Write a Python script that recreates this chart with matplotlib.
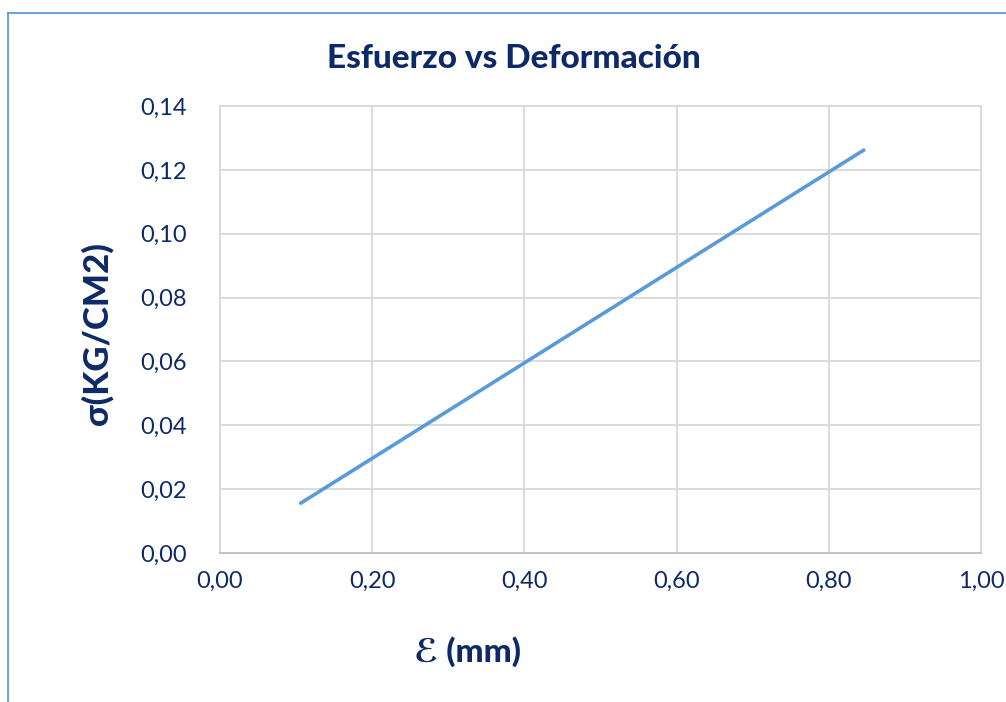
import matplotlib
matplotlib.use("Agg")
import matplotlib.pyplot as plt
from matplotlib.lines import Line2D
from matplotlib.ticker import FuncFormatter

plt.rcParams["font.family"] = ["Lato", "DejaVu Sans"]

# data
strain = [0.106, 0.846]
stress = [0.0156, 0.1262]
xticks = [0.0, 0.2, 0.4, 0.6, 0.8, 1.0]
yticks = [0.0, 0.02, 0.04, 0.06, 0.08, 0.10, 0.12, 0.14]

NAVY = "#0E2A66"
BLUE = "#5B9BD5"
GRID = "#D9D9D9"

fig = plt.figure(figsize=(10.06, 7.02), dpi=100)
ax = fig.add_axes([220 / 1006, 1 - 553 / 702, 761 / 1006, 447 / 702])

ax.plot(strain, stress, color=BLUE, lw=2.6, solid_capstyle="round")

ax.set_xlim(0, 1.0)
ax.set_ylim(0, 0.14)
ax.set_xticks(xticks)
ax.set_yticks(yticks)
comma = FuncFormatter(lambda v, p: f"{v:.2f}".replace(".", ","))
ax.xaxis.set_major_formatter(comma)
ax.yaxis.set_major_formatter(comma)
ax.tick_params(length=0, labelsize=17, labelcolor=NAVY)
ax.tick_params(axis="x", pad=13)
ax.tick_params(axis="y", pad=24)
ax.grid(True, color=GRID, lw=1.3)
ax.set_axisbelow(True)
for s in ax.spines.values():
    s.set_color(GRID)
    s.set_linewidth(1.3)
ax.spines["bottom"].set_color("#BFBFBF")

fig.text(514 / 1006, 1 - 58 / 702, "Esfuerzo vs Deformación", ha="center",
         va="center", fontsize=24, fontweight="black", color=NAVY)
fig.text(97 / 1006, 1 - 334 / 702, "σ(KG/CM2)", ha="center", va="center",
         rotation=90, fontsize=25, fontweight="black", color=NAVY)
fig.text(467 / 1006, 1 - 652 / 702, "ℰ (mm)", ha="center", va="center",
         fontsize=24, fontweight="black", color=NAVY)

# chart-area border (only left and top edges are visible in the crop)
fig.add_artist(Line2D([8 / 1006, 8 / 1006], [0, 1 - 12.5 / 702],
                      transform=fig.transFigure, color=BLUE, lw=1.3))
fig.add_artist(Line2D([8 / 1006, 1], [1 - 12.5 / 702, 1 - 12.5 / 702],
                      transform=fig.transFigure, color=BLUE, lw=1.3))

fig.savefig("out.png", dpi=100, facecolor="white")
